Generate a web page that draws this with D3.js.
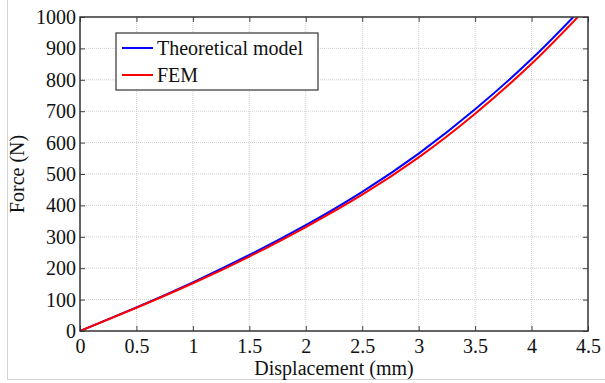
<!DOCTYPE html>
<html>
<head>
<meta charset="utf-8">
<script src="https://cdn.jsdelivr.net/npm/d3@7"></script>
<style>
  body { margin: 0; background: #fff; }
  text { font-family: "Liberation Serif", "Times New Roman", serif; fill: #111; }
</style>
</head>
<body>
<svg id="chart" width="605" height="383"></svg>
<script>
// Force vs displacement

var xTicks = [0, 0.5, 1, 1.5, 2, 2.5, 3, 3.5, 4, 4.5];
var yTicks = [0, 100, 200, 300, 400, 500, 600, 700, 800, 900, 1000];

var theoryX = [0, 0.5, 1, 1.5, 2, 2.5, 3, 3.5, 4, 4.37];
var theoryY = [0, 75, 155, 242, 337, 443, 565, 706, 866, 1000];

var femX = [0, 0.5, 1, 1.5, 2, 2.5, 3, 3.5, 4, 4.41];
var femY = [0, 74, 152, 237, 331, 434, 553, 692, 851, 1000];

var svg = d3.select("#chart");
var plotLeft = 80, plotRight = 588, plotTop = 17, plotBottom = 331;

// faint frame round the picture
svg.append("rect")
  .attr("x", 7.5).attr("y", -5)
  .attr("width", 610).attr("height", 384.5)
  .attr("fill", "none")
  .attr("stroke", "#d4d4d4");

var x = d3.scaleLinear().domain([0, 4.5]).range([plotLeft, plotRight]);
var y = d3.scaleLinear().domain([0, 1000]).range([plotBottom, plotTop]);

svg.append("clipPath").attr("id", "plot")
  .append("rect")
  .attr("x", plotLeft).attr("y", plotTop)
  .attr("width", plotRight - plotLeft).attr("height", plotBottom - plotTop);

// grid
svg.append("g")
  .selectAll("line")
  .data(xTicks.slice(1, -1))
  .enter()
  .append("line")
  .attr("x1", function (d) { return x(d); })
  .attr("x2", function (d) { return x(d); })
  .attr("y1", plotTop).attr("y2", plotBottom)
  .attr("stroke", "#d0d0d0")
  .attr("stroke-dasharray", "1,1");

svg.append("g")
  .selectAll("line")
  .data(yTicks.slice(1, -1))
  .enter()
  .append("line")
  .attr("y1", function (d) { return y(d); })
  .attr("y2", function (d) { return y(d); })
  .attr("x1", plotLeft).attr("x2", plotRight)
  .attr("stroke", "#d0d0d0")
  .attr("stroke-dasharray", "1,1");

// curves
var line = d3.line()
  .x(function (d) { return x(d[0]); })
  .y(function (d) { return y(d[1]); })
  .curve(d3.curveNatural);

var curves = svg.append("g").attr("clip-path", "url(#plot)");

curves.append("path")
  .datum(d3.zip(theoryX, theoryY))
  .attr("d", line)
  .attr("fill", "none")
  .attr("stroke", "#0000ff")
  .attr("stroke-width", 2);

curves.append("path")
  .datum(d3.zip(femX, femY))
  .attr("d", line)
  .attr("fill", "none")
  .attr("stroke", "#ff0000")
  .attr("stroke-width", 2);

// axes with inward ticks
function styleAxis(g) {
  g.select(".domain").remove();
  g.selectAll("text")
    .style("font-size", "20px")
    .style("font-family", "'Liberation Serif', serif")
    .style("fill", "#111");
  g.selectAll("line").attr("stroke", "#444");
}

svg.append("g")
  .attr("transform", "translate(0," + plotBottom + ")")
  .call(d3.axisBottom(x).tickValues(xTicks).tickSize(-5).tickPadding(8)
    .tickFormat(function (d) { return d; }))
  .call(styleAxis);

svg.append("g")
  .attr("transform", "translate(" + plotLeft + ",0)")
  .call(d3.axisLeft(y).tickValues(yTicks).tickSize(-5).tickPadding(4)
    .tickFormat(function (d) { return d; }))
  .call(styleAxis);

svg.append("g")
  .attr("transform", "translate(0," + plotTop + ")")
  .call(d3.axisTop(x).tickValues(xTicks).tickSize(-5).tickFormat(""))
  .call(styleAxis);

svg.append("g")
  .attr("transform", "translate(" + plotRight + ",0)")
  .call(d3.axisRight(y).tickValues(yTicks).tickSize(-5).tickFormat(""))
  .call(styleAxis);

// box
svg.append("rect")
  .attr("x", plotLeft).attr("y", plotTop)
  .attr("width", plotRight - plotLeft).attr("height", plotBottom - plotTop)
  .attr("fill", "none")
  .attr("stroke", "#333")
  .attr("stroke-width", 1.5);

// axis titles
svg.append("text")
  .attr("x", (plotLeft + plotRight) / 2)
  .attr("y", 375)
  .attr("text-anchor", "middle")
  .attr("font-size", 20)
  .text("Displacement (mm)");

svg.append("text")
  .attr("transform", "translate(24," + ((plotTop + plotBottom) / 2) + ") rotate(-90)")
  .attr("text-anchor", "middle")
  .attr("font-size", 20)
  .text("Force (N)");

// legend
var legendNames = ["Theoretical model", "FEM"];
var legendColors = ["#0000ff", "#ff0000"];

var legend = svg.append("g");
legend.append("rect")
  .attr("x", 116).attr("y", 33)
  .attr("width", 202).attr("height", 57)
  .attr("fill", "#fff")
  .attr("stroke", "#333")
  .attr("stroke-width", 1.2);

var item = legend.selectAll(".item")
  .data(legendNames)
  .enter()
  .append("g")
  .attr("class", "item")
  .attr("transform", function (d, i) { return "translate(0," + (48 + i * 27) + ")"; });

item.append("line")
  .attr("x1", 122).attr("x2", 153)
  .attr("stroke", function (d, i) { return legendColors[i]; })
  .attr("stroke-width", 2);

item.append("text")
  .attr("x", 157)
  .attr("y", 7)
  .attr("font-size", 20)
  .text(function (d) { return d; });
</script>
</body>
</html>
